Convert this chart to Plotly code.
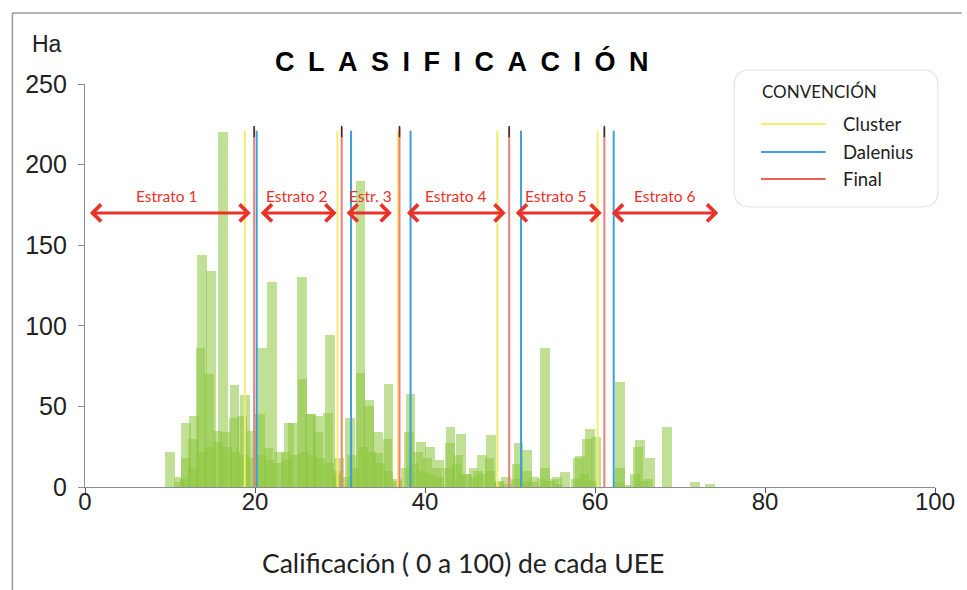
import plotly.graph_objects as go

# ---------------- data ----------------
# Tall (top) layer of the overlaid histogram
tall_x = [10.0, 11.0, 11.9, 12.8, 13.8, 14.8, 16.2, 17.6, 18.8, 20.8, 22.0, 23.6, 24.5, 25.5, 26.6,
          27.4, 28.8, 29.9, 31.2, 32.4, 33.4, 34.5, 35.7, 36.7, 38.3, 39.5, 40.6, 41.7, 43.0,
          44.2, 45.7, 46.7, 47.8, 49.5, 51.0, 52.0, 52.8, 54.1, 55.5, 56.5, 58.2, 59.4, 60.1,
          62.9, 65.3, 66.5, 68.5, 71.8, 73.5]
tall_y = [22, 6, 40, 44, 144, 134, 220, 63, 57, 86, 127, 22, 40, 130, 45,
          44, 94, 18, 43, 190, 54, 34, 64, 5, 58, 28, 25, 17, 37,
          33, 12, 20, 32, 6, 27, 23, 6, 86, 6, 9, 19, 36, 31,
          65, 29, 18, 37, 3, 2]

# Medium layer
mid_x = [11.1, 11.9, 12.7, 13.6, 14.6, 15.6, 16.6, 17.5, 18.5, 19.5, 20.6, 21.6, 22.8, 24.0,
         25.6, 26.5, 27.4, 28.6, 29.6, 31.4, 32.4, 33.4, 34.5, 35.6, 38.1, 39.2, 40.2, 41.4,
         42.9, 43.9, 45.0, 46.2, 47.6, 48.7, 50.8, 52.0, 54.1, 55.2, 58.0, 59.1, 62.9, 65.1, 66.3]
mid_y = [3, 18, 30, 86, 70, 35, 34, 43, 44, 35, 45, 24, 22, 40,
         67, 45, 34, 46, 10, 20, 71, 50, 21, 30, 34, 22, 18, 12,
         27, 20, 8, 10, 18, 4, 14, 10, 12, 5, 18, 30, 12, 25, 5]

# Low dense base layer
base_x = [11.7, 12.7, 13.7, 14.7, 15.7, 16.7, 17.7, 18.7, 19.7, 20.7, 21.7, 22.7, 23.7, 24.7,
          25.7, 26.7, 27.7, 28.7, 29.7, 30.7, 31.7, 32.7, 33.7, 34.7, 35.7, 36.7, 37.7, 38.7,
          39.7, 40.7, 41.7, 42.7, 43.7, 44.7, 45.7, 46.7, 47.7, 48.7, 49.7, 50.7, 51.7, 52.7,
          53.7, 54.7, 55.7, 57.7, 58.7, 59.7, 62.7, 63.7, 64.7, 65.7]
base_y = [5, 12, 22, 25, 28, 25, 22, 20, 18, 20, 17, 15, 17, 20,
          22, 20, 18, 15, 8, 6, 12, 25, 22, 15, 10, 4, 12, 14,
          10, 8, 6, 12, 14, 8, 6, 8, 10, 3, 2, 5, 4, 3,
          5, 4, 2, 5, 8, 4, 3, 1, 8, 4]

# Stratum cut points by method
cluster_cuts = [18.8, 29.7, 36.8, 48.5, 60.3]
dalenius_cuts = [20.2, 31.3, 38.3, 51.3, 62.2]
final_cuts = [19.9, 30.2, 37.0, 49.9, 61.1]
cut_line_top = 221

# Strata arrows
strata_labels = ["Estrato 1", "Estrato 2", "Estr. 3", "Estrato 4", "Estrato 5", "Estrato 6"]
strata_start = [0.4, 20.5, 30.6, 37.7, 50.5, 61.8]
strata_end = [19.5, 29.6, 36.1, 49.5, 60.8, 74.5]
strata_label_x = [9.6, 24.9, 33.6, 43.6, 55.3, 68.2]
arrow_y = 170
label_y = 180.5

x_ticks = [0, 20, 40, 60, 80, 100]
y_ticks = [0, 50, 100, 150, 200, 250]

# ---------------- layout helpers ----------------
W, H = 967, 590
L, R, T, B = 85, 27, 84, 103
PW, PH = W - L - R, H - T - B


def px(xp):
    return (xp - L) / PW


def py(yp):
    return (H - B - yp) / PH


BAR_COLOR = "rgba(140,198,63,0.55)"
YELLOW = "#f3ee6a"
BLUE = "#3a9fdc"
RED = "#f47c78"
ARROW_RED = "#e8322a"
CAL = "Lato, 'Open Sans', sans-serif"
ARIAL = "'Liberation Sans', Arial, sans-serif"

fig = go.Figure()
for xs, ys in [(base_x, base_y), (mid_x, mid_y), (tall_x, tall_y)]:
    fig.add_trace(go.Bar(x=xs, y=ys, width=1.15, marker=dict(color=BAR_COLOR, line=dict(width=0)),
                         showlegend=False, hoverinfo="x+y"))


def vlines(cuts, top):
    xs, ys = [], []
    for c in cuts:
        xs += [c, c, None]
        ys += [0, top, None]
    return xs, ys


for cuts, col, top in [(cluster_cuts, YELLOW, cut_line_top), (final_cuts, RED, cut_line_top + 2),
                       (dalenius_cuts, BLUE, cut_line_top)]:
    xs, ys = vlines(cuts, top)
    fig.add_trace(go.Scatter(x=xs, y=ys, mode="lines", line=dict(color=col, width=2),
                             showlegend=False, hoverinfo="skip"))

# small dark ticks on top of final cut lines
xs, ys = [], []
for c in final_cuts:
    xs += [c, c, None]
    ys += [cut_line_top - 4, cut_line_top + 3, None]
fig.add_trace(go.Scatter(x=xs, y=ys, mode="lines", line=dict(color="#333", width=1.5),
                         showlegend=False, hoverinfo="skip"))

annotations = []
for s, e, lx, lab in zip(strata_start, strata_end, strata_label_x, strata_labels):
    annotations.append(dict(x=e, y=arrow_y, ax=s, ay=arrow_y, xref="x", yref="y", axref="x", ayref="y",
                            text="", showarrow=True, arrowhead=4, startarrowhead=4, arrowside="end+start",
                            arrowsize=1.1, startarrowsize=1.1, arrowwidth=3, arrowcolor=ARROW_RED,
                            standoff=0, startstandoff=0))
    annotations.append(dict(x=lx, y=label_y, xref="x", yref="y", text=lab, showarrow=False,
                            font=dict(family=CAL, size=15.5, color=ARROW_RED), yanchor="middle"))

title_text = "\u2002".join(list("CLASIFICACIÓN"))
annotations.append(dict(x=px(464), y=py(62), xref="paper", yref="paper", text="<b>" + title_text + "</b>",
                        showarrow=False, font=dict(family=ARIAL, size=27, color="#000"),
                        xanchor="center", yanchor="middle"))
annotations.append(dict(x=px(47), y=py(44), xref="paper", yref="paper", text="Ha", showarrow=False,
                        font=dict(family=ARIAL, size=23, color="#222"), xanchor="center", yanchor="middle"))
# x-axis title (offset to the left of the plot center, as in the original)
annotations.append(dict(x=px(465), y=py(563), xref="paper", yref="paper",
                        text="Calificación ( 0 a 100) de cada UEE", showarrow=False,
                        font=dict(family=CAL, size=26.5, color="#222"), xanchor="center", yanchor="middle"))

# legend (manual)
annotations.append(dict(x=px(764), y=py(92), xref="paper", yref="paper", text="CONVENCIÓN", showarrow=False,
                        font=dict(family=CAL, size=17, color="#222"), xanchor="left", yanchor="middle"))
legend_items = [("Cluster", YELLOW, 124), ("Dalenius", BLUE, 152), ("Final", "#f0605a", 179)]
shapes = []
for name, col, yp in legend_items:
    annotations.append(dict(x=px(845), y=py(yp), xref="paper", yref="paper", text=name, showarrow=False,
                            font=dict(family=CAL, size=18.5, color="#222"), xanchor="left", yanchor="middle"))
    shapes.append(dict(type="line", xref="paper", yref="paper", x0=px(765), x1=px(830), y0=py(yp), y1=py(yp),
                       line=dict(color=col, width=2)))

# rounded legend box
x0, x1, y0, y1 = px(738), px(943), py(207), py(70)
rx, ry = 16 / PW, 16 / PH
path = (f"M{x0+rx},{y1} L{x1-rx},{y1} Q{x1},{y1} {x1},{y1-ry} L{x1},{y0+ry} Q{x1},{y0} {x1-rx},{y0} "
        f"L{x0+rx},{y0} Q{x0},{y0} {x0},{y0+ry} L{x0},{y1-ry} Q{x0},{y1} {x0+rx},{y1} Z")
shapes.append(dict(type="path", xref="paper", yref="paper", path=path,
                   line=dict(color="#dfe3ea", width=1.2), fillcolor="rgba(255,255,255,0)", layer="above"))

# outer frame (left and top)
shapes.append(dict(type="line", xref="paper", yref="paper", x0=px(12), x1=px(12), y0=py(590), y1=py(13),
                   line=dict(color="#9a9a9a", width=1.5)))
shapes.append(dict(type="line", xref="paper", yref="paper", x0=px(12), x1=px(967), y0=py(13), y1=py(13),
                   line=dict(color="#9a9a9a", width=1.5)))

fig.update_layout(
    width=W, height=H, margin=dict(l=L, r=R, t=T, b=B),
    paper_bgcolor="white", plot_bgcolor="white",
    barmode="overlay", bargap=0,
    annotations=annotations, shapes=shapes,
    xaxis=dict(range=[0, 100], tickvals=x_ticks, ticks="outside", ticklen=5, tickcolor="#555",
               showline=True, linecolor="#8c8c8c", linewidth=1.2, showgrid=False, zeroline=False,
               tickfont=dict(family=ARIAL, size=24, color="#222"), ticklabelstandoff=-12),
    yaxis=dict(range=[0, 250], tickvals=y_ticks, ticks="outside", ticklen=6, tickcolor="#8c8c8c",
               showline=True, linecolor="#8c8c8c", linewidth=1.2, showgrid=False, zeroline=False,
               tickfont=dict(family=ARIAL, size=25, color="#222"), ticklabelstandoff=6),
)

fig.write_html("out.html", config={"displayModeBar": False},
               post_script="document.body.style.margin='0px';document.body.style.overflow='hidden';")
